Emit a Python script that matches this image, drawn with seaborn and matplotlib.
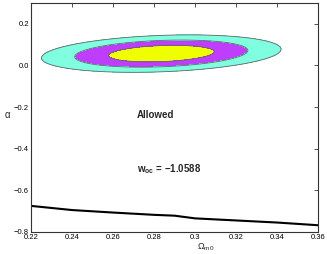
import numpy as np
import pandas as pd
import matplotlib
import matplotlib.pyplot as plt
import seaborn as sns

matplotlib.use("Agg")

# boundary curve (alpha limit vs Omega_m0)
omega_line = [0.22, 0.24, 0.26, 0.28, 0.29, 0.30, 0.32, 0.34, 0.36]
alpha_line = [-0.675, -0.695, -0.707, -0.718, -0.722, -0.735, -0.745, -0.755, -0.768]

# best fit and covariance of the confidence region
best_fit = [0.2835, 0.057]
sigma_omega = 0.0170
sigma_alpha = 0.0262
corr = 0.234
dchi2_levels = [0, 2.30, 6.17, 11.8]
level_colors = ["#f0ff00", "#bf3dff", "#7fffdf"]

x_ticks = [0.22, 0.24, 0.26, 0.28, 0.3, 0.32, 0.34, 0.36]
x_tick_labels = ["0.22", "0.24", "0.26", "0.28", "0.3", "0.32", "0.34", "0.36"]
y_ticks = [-0.8, -0.6, -0.4, -0.2, 0, 0.2]

sns.set_style("white")
plt.rcParams["font.family"] = ["Liberation Sans", "DejaVu Sans"]
plt.rcParams["mathtext.fontset"] = "custom"
plt.rcParams["mathtext.rm"] = "Liberation Sans"
plt.rcParams["mathtext.it"] = "Liberation Sans"
plt.rcParams["mathtext.bf"] = "Liberation Sans:bold"


def chi2_grid():
    om = np.linspace(0.22, 0.36, 400)
    al = np.linspace(-0.2, 0.3, 400)
    X, Y = np.meshgrid(om, al)
    cov = np.array([[sigma_omega ** 2, corr * sigma_omega * sigma_alpha],
                    [corr * sigma_omega * sigma_alpha, sigma_alpha ** 2]])
    inv = np.linalg.inv(cov)
    dx = X - best_fit[0]
    dy = Y - best_fit[1]
    chi2 = inv[0, 0] * dx ** 2 + 2 * inv[0, 1] * dx * dy + inv[1, 1] * dy ** 2
    return X, Y, chi2


fig = plt.figure(figsize=(3.27, 2.54), dpi=100)
ax = fig.add_axes([0.095, 0.087, 0.878, 0.901])

X, Y, chi2 = chi2_grid()
ax.contourf(X, Y, chi2, levels=dchi2_levels, colors=level_colors)
ax.contour(X, Y, chi2, levels=dchi2_levels[1:], colors="#666666", linewidths=0.6)

df = pd.DataFrame({"omega": omega_line, "alpha": alpha_line})
sns.lineplot(df, x="omega", y="alpha", color="black", linewidth=1.5, ax=ax)

ax.text(0.2717, -0.236, "Allowed", fontsize=7, fontweight="bold", va="center")
ax.text(0.2717, -0.50, "$\\mathbf{w_{oc}}$ = \u22121.0588",
        fontsize=7, fontweight="bold", va="center")

ax.set_xlim(0.22, 0.36)
ax.set_ylim(-0.8, 0.3)
ax.set_xticks(x_ticks)
ax.set_xticklabels(x_tick_labels)
ax.set_yticks(y_ticks)
ax.tick_params(direction="in", length=3, width=0.6, labelsize=5.5, pad=1.5,
               top=True, right=True, colors="#333333", labelcolor="black")
for s in ax.spines.values():
    s.set_linewidth(0.8)
    s.set_color("#333333")

ax.set_xlabel("$\\Omega_{\\rm m0}$", fontsize=6.5, va="center")
ax.xaxis.set_label_coords(0.61, -0.066)
ax.set_ylabel("$\\alpha$", fontsize=7, rotation=0, va="center", ha="center")
ax.yaxis.set_label_coords(-0.08, 0.51)

fig.savefig("out.png", dpi=100)
